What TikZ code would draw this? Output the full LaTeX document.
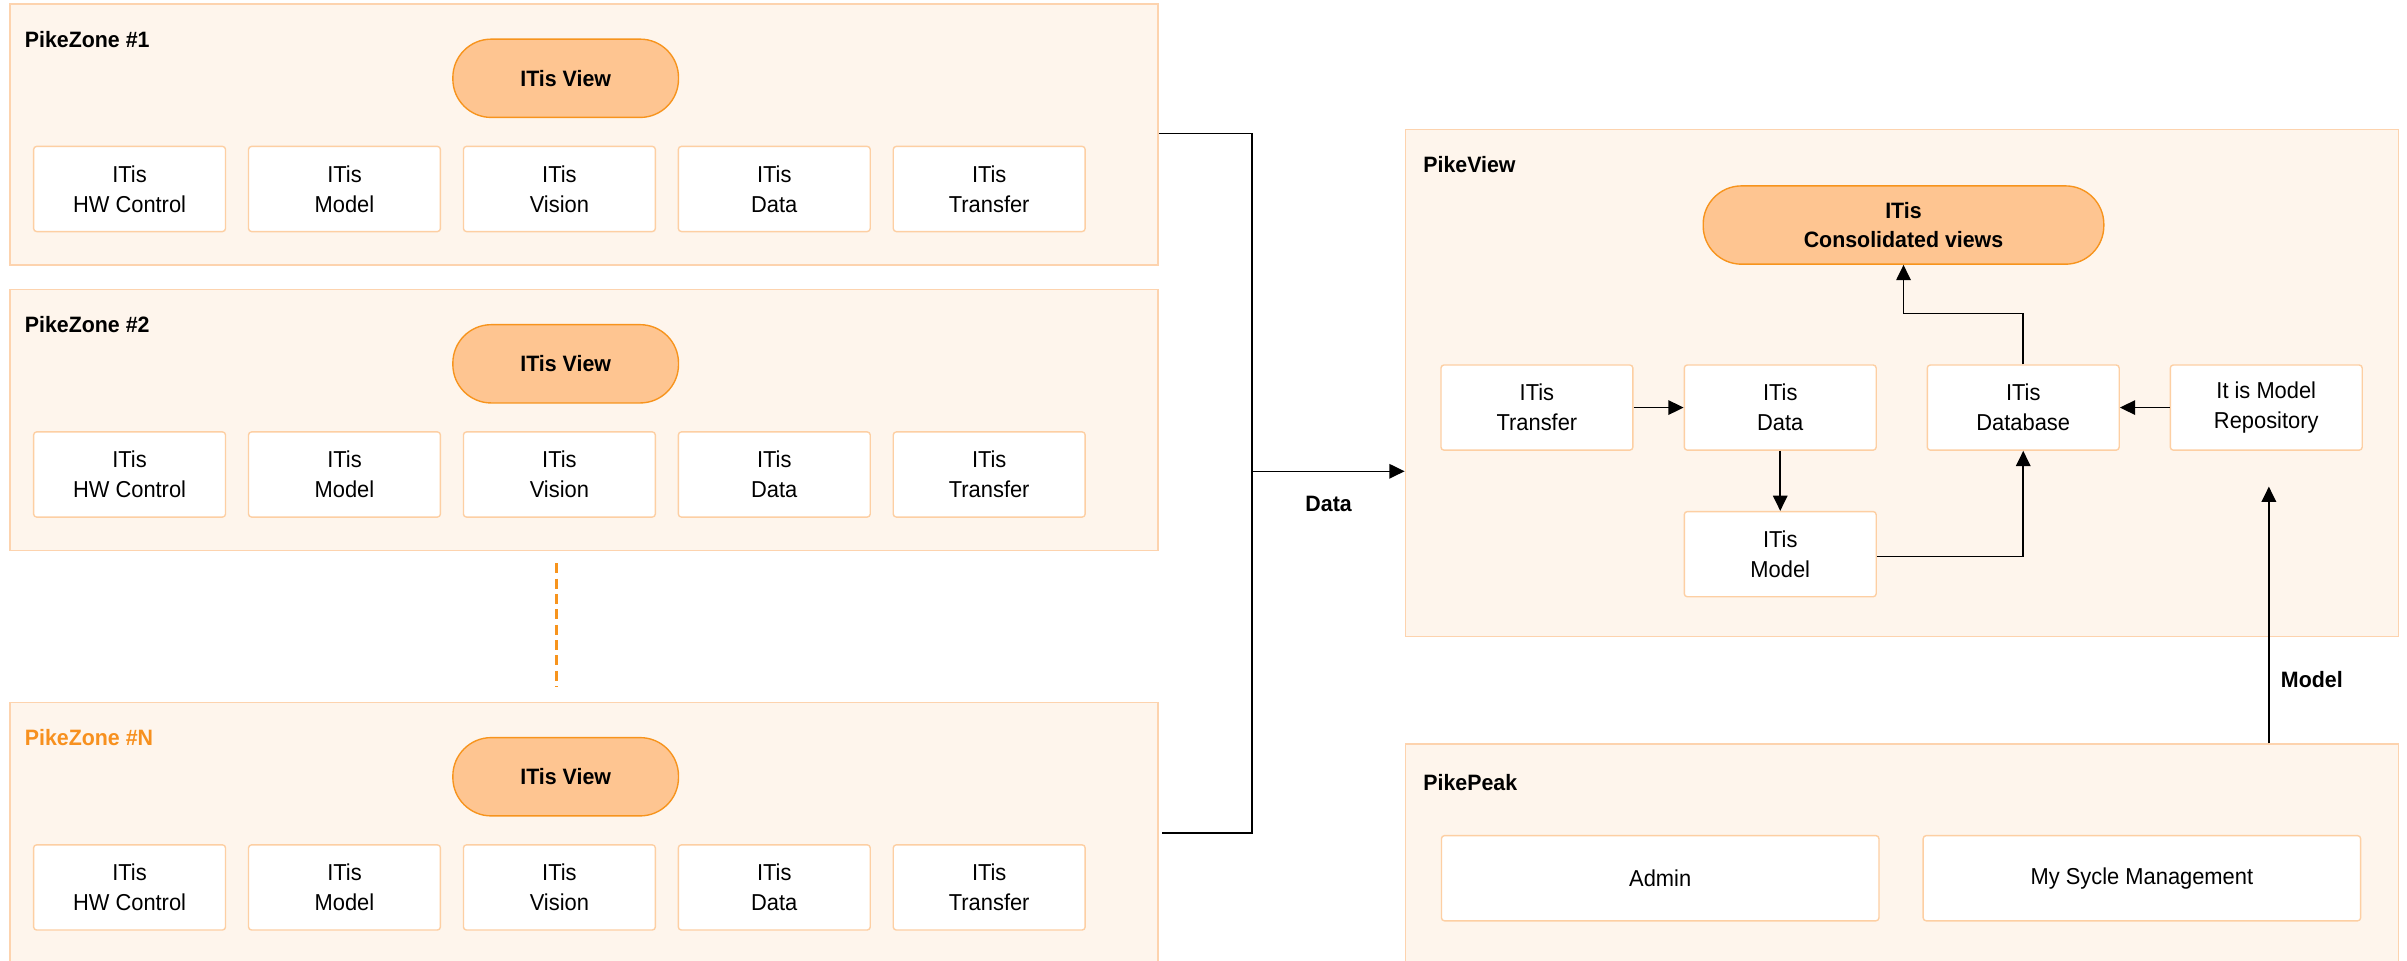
\documentclass[tikz,border=0pt]{standalone}
\usepackage{fontspec}
\setmainfont{Liberation Sans}[FakeStretch=0.95]
\newfontfamily\medfont{Liberation Sans Bold}[FakeStretch=0.96]
\usetikzlibrary{arrows.meta}
\definecolor{zonefill}{HTML}{FEF5EC}
\definecolor{zoneline}{HTML}{FDD3AE}
\definecolor{pillfill}{HTML}{FEC591}
\definecolor{pillline}{HTML}{F7941D}
\definecolor{boxline}{HTML}{FDCFA3}
\definecolor{orangetxt}{HTML}{F7901E}
\newcommand{\bodyfont}{\fontsize{15}{19.5}\selectfont}
\newcommand{\hdrfont}{\medfont\fontsize{14.5}{18.5}\selectfont}
\begin{document}
\begin{tikzpicture}[x=1pt,y=-1pt,
  zone/.style={draw=zoneline, fill=zonefill, line width=1pt, anchor=north west, minimum width=748pt, minimum height=170pt, inner sep=0pt},
  pill/.style={draw=pillline, fill=pillfill, line width=0.9pt, rounded corners=25pt, minimum width=147pt, minimum height=51pt, font=\hdrfont, align=center, inner sep=0pt},
  box/.style={draw=boxline, fill=white, line width=0.9pt, rounded corners=2pt, minimum width=125pt, minimum height=55.5pt, align=center, font=\bodyfont, inner sep=0pt},
  ttl/.style={anchor=west, font=\hdrfont, inner sep=0pt},
  lbl/.style={font=\hdrfont, inner sep=0pt},
  conn/.style={draw=black, line width=1pt},
  arr/.style={conn, -{Triangle[length=10pt,width=9.5pt]}},
  dashline/.style={draw=pillline, line width=2pt, dash pattern=on 6.5pt off 3.5pt}
]
\clip (0,0) rectangle (1568,626);
\fill[white] (0,0) rectangle (1568,626);
% zones
\foreach \off/\n/\tcol in {0/1/black, 186/2/black, 455/N/orangetxt} {
  \node[zone] (z\n) at (6,2+\off) {};
  \node[ttl, text=\tcol] (z\n-title) at (16,25.6+\off) {PikeZone \#\n};
  \node[pill] (z\n-view) at (368.5,51+\off) {ITis View};
  \node[box] (z\n-hw) at (84.4,123.1+\off) {ITis\\HW Control};
  \node[box] (z\n-mo) at (224.4,123.1+\off) {ITis\\Model};
  \node[box] (z\n-vi) at (364.4,123.1+\off) {ITis\\Vision};
  \node[box] (z\n-da) at (504.4,123.1+\off) {ITis\\Data};
  \node[box] (z\n-tr) at (644.4,123.1+\off) {ITis\\Transfer};
}
% dashed continuation
\coordinate (d1) at (362.3,367);
\coordinate (d2) at (362.3,447.5);
\draw[dashline] (d1) -- (d2);
% PikeView
\node[zone, minimum width=647pt, minimum height=330pt] (pv) at (915,84) {};
\node[ttl] (pv-title) at (927,107) {PikeView};
\node[pill, minimum width=261pt] (cv) at (1240,146.6) {ITis\\Consolidated views};
\node[box] (tr) at (1001.2,265.5) {ITis\\Transfer};
\node[box] (da) at (1159.7,265.5) {ITis\\Data};
\node[box] (db) at (1318,265.5) {ITis\\Database};
\node[box] (rp) at (1476.3,265.5) {It is Model\\Repository};
\node[box] (mo) at (1159.7,361) {ITis\\Model};
% PikePeak
\node[zone, minimum width=647pt, minimum height=150pt] (pp) at (915,484.3) {};
\node[ttl] (pp-title) at (927,510) {PikePeak};
\node[box, minimum width=285pt] (adm) at (1081.5,572.1) {Admin};
\node[box, minimum width=285pt] (syc) at (1395.3,572.1) {My Sycle Management};
% bus connector
\coordinate (bustop) at (815.6,87);
\coordinate (busbot) at (815.6,542.6);
\coordinate (busmid) at (815.6,307);
\draw[conn] (z1.east |- bustop) -- (bustop) -- (busbot) -- ([xshift=2pt]zN.east |- busbot);
\draw[arr] (busmid) -- (pv.west |- busmid);
\node[lbl] (datalbl) at (865.5,328) {Data};
% internal arrows
\draw[arr] (tr) -- (da);
\draw[arr] (da) -- (mo);
\draw[arr] ([yshift=-1.5pt]mo.east) -| (db.south);
\draw[arr] (db.north) -- ++(0,-33) -| (cv.south);
\draw[arr] (rp) -- (db);
% model arrow
\coordinate (mtip) at (1478,317);
\draw[arr] (mtip |- pp.north) -- (mtip);
\node[lbl] (modellbl) at (1506,442.6) {Model};
\end{tikzpicture}
\end{document}
